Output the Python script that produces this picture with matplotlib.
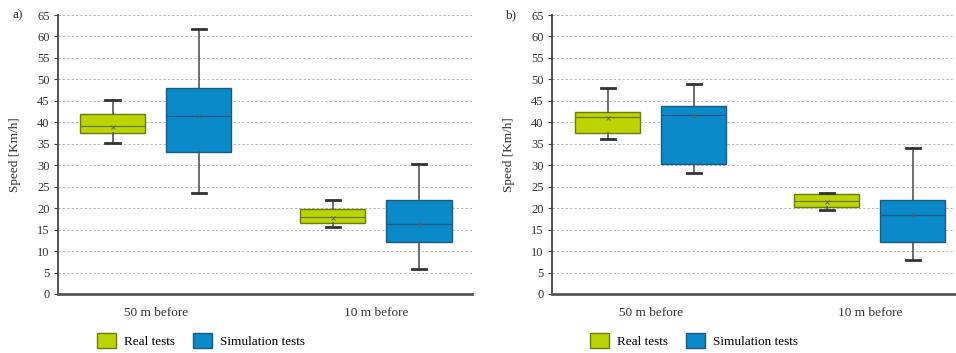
import matplotlib
matplotlib.use('Agg')
import matplotlib.pyplot as plt
from matplotlib.patches import Patch

plt.rcParams['font.family'] = ['Liberation Serif', 'DejaVu Serif']

categories = ['50 m before', '10 m before']
series_names = ['Real tests', 'Simulation tests']
yticks = list(range(0, 70, 5))

# panel a) : whisker low, Q1, median, Q3, whisker high, mean
a_real_lo = [35.1, 15.6]
a_real_q1 = [37.4, 16.5]
a_real_med = [39.2, 17.9]
a_real_q3 = [42.0, 19.7]
a_real_hi = [45.2, 21.8]
a_real_mean = [39.0, 17.8]

a_sim_lo = [23.5, 5.8]
a_sim_q1 = [33.0, 12.0]
a_sim_med = [41.4, 16.3]
a_sim_q3 = [48.1, 21.8]
a_sim_hi = [61.7, 30.2]
a_sim_mean = [41.5, 16.2]

# panel b)
b_real_lo = [36.1, 19.6]
b_real_q1 = [37.4, 20.2]
b_real_med = [41.3, 21.6]
b_real_q3 = [42.4, 23.4]
b_real_hi = [47.9, 23.6]
b_real_mean = [41.0, 21.4]

b_sim_lo = [28.3, 8.0]
b_sim_q1 = [30.2, 12.0]
b_sim_med = [41.6, 18.4]
b_sim_q3 = [43.7, 21.8]
b_sim_hi = [49.0, 33.9]
b_sim_mean = [41.5, 18.3]

green = '#bcd400'
green_edge = '#6b7a10'
blue = '#0a8ac8'
blue_edge = '#1d5a7c'


def make_stats(lo, q1, med, q3, hi, mean):
    return [dict(whislo=lo[i], q1=q1[i], med=med[i], q3=q3[i], whishi=hi[i],
                 mean=mean[i], fliers=[]) for i in range(len(lo))]


def draw_series(ax, stats, offset, face, edge):
    pos = [i + offset for i in range(len(stats))]
    ax.bxp(stats, positions=pos, widths=0.296, patch_artist=True, showmeans=True,
           showfliers=False, capwidths=0.065,
           boxprops=dict(facecolor=face, edgecolor=edge, linewidth=1.0),
           medianprops=dict(color=edge, linewidth=0.9),
           whiskerprops=dict(color='#555555', linewidth=1.2),
           capprops=dict(color='#333333', linewidth=2.0),
           meanprops=dict(marker='x', markersize=3, markeredgecolor='#556070',
                          markeredgewidth=0.6))


fig = plt.figure(figsize=(9.56, 3.53), dpi=100)
ax_a = fig.add_axes([58 / 956, 59 / 353, 414 / 956, 279 / 353])
ax_b = fig.add_axes([552 / 956, 59 / 353, 403 / 956, 279 / 353])

panels = [
    (ax_a, 'a)', (-0.445, 1.436), -0.089, -0.098,
     make_stats(a_real_lo, a_real_q1, a_real_med, a_real_q3, a_real_hi, a_real_mean),
     make_stats(a_sim_lo, a_sim_q1, a_sim_med, a_sim_q3, a_sim_hi, a_sim_mean)),
    (ax_b, 'b)', (-0.452, 1.388), -0.092, -0.103,
     make_stats(b_real_lo, b_real_q1, b_real_med, b_real_q3, b_real_hi, b_real_mean),
     make_stats(b_sim_lo, b_sim_q1, b_sim_med, b_sim_q3, b_sim_hi, b_sim_mean)),
]

for ax, tag, xlim, label_x, tag_x, real_stats, sim_stats in panels:
    for y in yticks[1:]:
        ax.axhline(y, color='#b8b8b8', linewidth=0.7, linestyle=(0, (2.5, 2)), zorder=0)
    draw_series(ax, real_stats, -0.197, green, green_edge)
    draw_series(ax, sim_stats, 0.195, blue, blue_edge)

    ax.set_xlim(*xlim)
    ax.set_ylim(0, 65)
    ax.set_yticks(yticks)
    ax.set_xticks([0, 1])
    ax.set_xticklabels(categories, fontsize=9.5)
    ax.tick_params(axis='x', length=0, pad=9, colors='#333333')
    ax.tick_params(axis='y', length=3, width=0.8, labelsize=9, colors='#444444',
                   labelcolor='#333333', pad=3)
    for s in ['top', 'right']:
        ax.spines[s].set_visible(False)
    ax.spines['left'].set_color('#444444')
    ax.spines['left'].set_linewidth(1.3)
    ax.spines['bottom'].set_color('#555555')
    ax.spines['bottom'].set_linewidth(2.0)

    ax.set_ylabel('Speed [Km/h]', fontsize=9.5, color='#333333')
    ax.yaxis.set_label_coords(label_x, 0.5)
    ax.text(tag_x, 1.0, tag, transform=ax.transAxes, fontsize=9.5, color='#333333',
            ha='center', va='center')

    handles = [Patch(facecolor=green, edgecolor=green_edge, linewidth=1.0),
               Patch(facecolor=blue, edgecolor=blue_edge, linewidth=1.0)]
    ax.legend(handles, series_names, loc='upper left', bbox_to_anchor=(0.095, -0.138),
              ncol=2, frameon=False, fontsize=9.5, handlelength=1.4, handleheight=1.45,
              handletextpad=0.6, columnspacing=1.4, borderpad=0, borderaxespad=0)

fig.savefig('out.png', dpi=100)
